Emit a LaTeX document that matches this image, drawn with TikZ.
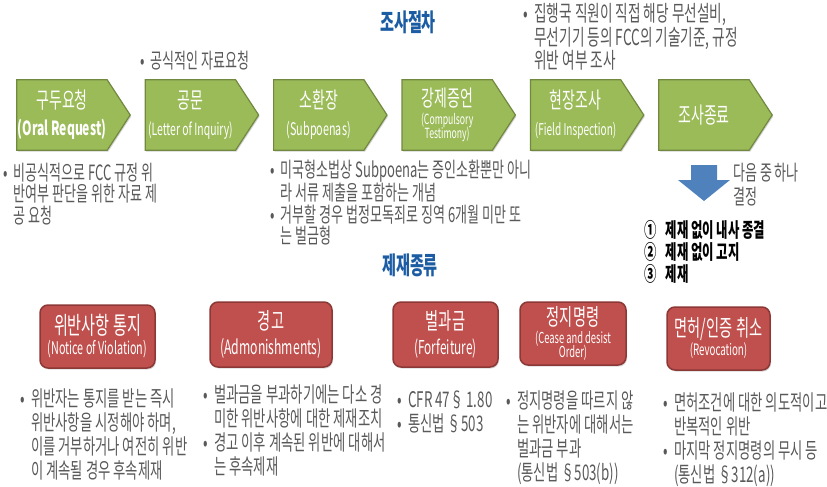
\documentclass[tikz,border=0pt]{standalone}
\usepackage{fontspec}
\setmainfont{Noto Sans CJK KR}[FakeStretch=0.62]
\usepackage{xcolor}
\usepackage{tikz}
\usetikzlibrary{positioning, backgrounds, shadows}

\definecolor{stepgreen}{HTML}{9BBB59}
\definecolor{stepedge}{HTML}{71893F}
\definecolor{sancred}{HTML}{C0504D}
\definecolor{sancedge}{HTML}{8C3836}
\definecolor{headblue}{HTML}{1B5CA3}
\definecolor{notegray}{HTML}{595959}
\definecolor{arrowblue}{HTML}{4F81BD}

\newcommand{\bul}{•\hspace{0.3em}}
\newcommand{\hng}{\phantom{•}\hspace{0.3em}}

\begin{document}
\begin{tikzpicture}[x=1pt, y=-1pt,
    headline/.style={font=\bfseries\fontsize{24.5}{28}\selectfont, text=headblue, inner sep=0pt},
    stage/.style={minimum width=90pt, minimum height=70pt, inner sep=0pt, align=center,
      text=white, font=\fontsize{22.5}{27}\selectfont},
    stagebox/.style={fill=stepgreen, draw=stepedge, line width=1.2pt, line join=miter,
      drop shadow={shadow xshift=1pt, shadow yshift=-1.5pt, fill=black!35}},
    sanction/.style={rounded corners=8pt, draw=sancedge, fill=sancred, line width=1.5pt,
      text=white, align=center, inner sep=0pt, font=\fontsize{23}{25}\selectfont,
      drop shadow={shadow xshift=1pt, shadow yshift=-1.5pt, fill=black!30}},
    note/.style={anchor=north west, inner sep=0pt, align=left, text=notegray,
      font=\fontsize{21}{21.5}\selectfont},
    lownote/.style={note, font=\fontsize{21.5}{24}\selectfont}
  ]
  \useasboundingbox (0,0) rectangle (827,487);

  % headings
  \node[headline] (proc) at (408,22) {조사절차};
  \node[headline] (kinds) at (410,265) {제재종류};

  % investigation steps
  \node[stage] (oral) at (62,115) {구두요청\\{\bfseries\fontsize{19.5}{18}\selectfont (Oral Request)}};
  \node[stage, right=38pt of oral] (inq) {공문\\{\fontsize{16.8}{16}\selectfont (Letter of Inquiry)}};
  \node[stage, right=38pt of inq] (subp) {소환장\\{\fontsize{17.4}{16}\selectfont (Subpoenas)}};
  \node[stage, right=38pt of subp] (testi) {강제증언\\[-9pt]{\fontsize{14}{14}\selectfont (Compulsory}\\[-13pt]{\fontsize{14}{14}\selectfont Testimony)}};
  \node[stage, right=38pt of testi] (field) {현장조사\\{\fontsize{16.2}{16}\selectfont (Field Inspection)}};
  \node[stage, right=38pt of field] (close) {조사종료};
  \begin{pgfonlayer}{background}
    \foreach \s in {oral, inq, subp, testi, field, close}
      \draw[stagebox] (\s.north west) -- (\s.north east) -- ([xshift=23pt]\s.east)
        -- (\s.south east) -- (\s.south west) -- cycle;
  \end{pgfonlayer}

  % step notes
  \node[note] (inqnote) at (140,50.5) {\bul 공식적인 자료요청};
  \node[note, font=\fontsize{22}{23.5}\selectfont] (fieldnote) at (523,3.5)
    {\bul 집행국 직원이 직접 해당 무선설비,\\\hng 무선기기 등의 FCC의 기술기준, 규정\\\hng 위반 여부 조사};
  \node[note] (oralnote) at (3,162.5)
    {\bul 비공식적으로 FCC 규정 위\\\hng 반여부 판단을 위한 자료 제\\\hng 공 요청};
  \node[note] (subpnote) at (270,159.5)
    {\bul 미국형소법상 Subpoena는 증인소환뿐만 아니\\\hng 라 서류 제출을 포함하는 개념\\\bul 거부할 경우 법정모독죄로 징역 6개월 미만 또\\\hng 는 벌금형};

  % outcome of the investigation
  \fill[arrowblue] (691,165) -- (717,165) -- (717,180) -- (730,180) -- (704,201)
    -- (678,180) -- (691,180) -- cycle;
  \node[note, font=\fontsize{21}{24}\selectfont] (pick) at (733,162.5) {다음 중 하나\\결정};
  \node[note, text=black, font=\bfseries\fontsize{20}{22}\selectfont] (result) at (644,220.5)
    {①\hspace{0.45em}제재 없이 내사 종결\\②\hspace{0.45em}제재 없이 고지\\③\hspace{0.45em}제재};

  % kinds of sanctions
  \node[sanction, minimum width=115pt, minimum height=63pt] (nov) at (97.5,336.5)
    {{\fontsize{24.4}{25}\selectfont 위반사항 통지}\\[-5pt]{\fontsize{17.4}{16}\selectfont (Notice of Violation)}};
  \node[sanction, minimum width=122pt, minimum height=65pt] (adm) at (271,334.5)
    {경고\\{\fontsize{19.7}{18}\selectfont (Admonishments)}};
  \node[sanction, minimum width=105pt, minimum height=65pt] (forf) at (445.5,334.5)
    {벌과금\\{\fontsize{19.1}{18}\selectfont (Forfeiture)}};
  \node[sanction, minimum width=106pt, minimum height=63pt] (cease) at (573,333.5)
    {정지명령\\[-7pt]{\fontsize{15.1}{14}\selectfont (Cease and desist}\\[-11pt]{\fontsize{15.1}{14}\selectfont Order)}};
  \node[sanction, minimum width=103pt, minimum height=63pt] (revo) at (718.5,338.5)
    {{\fontsize{23}{25}\selectfont 면허/인증 취소}\\[-6pt]{\fontsize{15.7}{14}\selectfont (Revocation)}};

  % sanction notes
  \node[lownote] (novnote) at (20,388.5)
    {\bul 위반자는 통지를 받는 즉시\\\hng 위반사항을 시정해야 하며,\\\hng 이를 거부하거나 여전히 위반\\\hng 이 계속될 경우 후속제재};
  \node[lownote] (admnote) at (203,384.5)
    {\bul 벌과금을 부과하기에는 다소 경\\\hng 미한 위반사항에 대한 제재조치\\\bul 경고 이후 계속된 위반에 대해서\\\hng 는 후속제재};
  \node[lownote] (forfnote) at (397,390.5) {\bul CFR 47§ 1.80\\\bul 통신법 §503};
  \node[lownote] (ceasenote) at (506,390.5)
    {\bul 정지명령을 따르지 않\\\hng 는 위반자에 대해서는\\\hng 벌과금 부과\\\hng (통신법 §503(b))};
  \node[lownote] (revonote) at (663,392.5)
    {\bul 면허조건에 대한 의도적이고\\\hng 반복적인 위반\\\bul 마지막 정지명령의 무시 등\\\hng (통신법 §312(a))};
\end{tikzpicture}
\end{document}
